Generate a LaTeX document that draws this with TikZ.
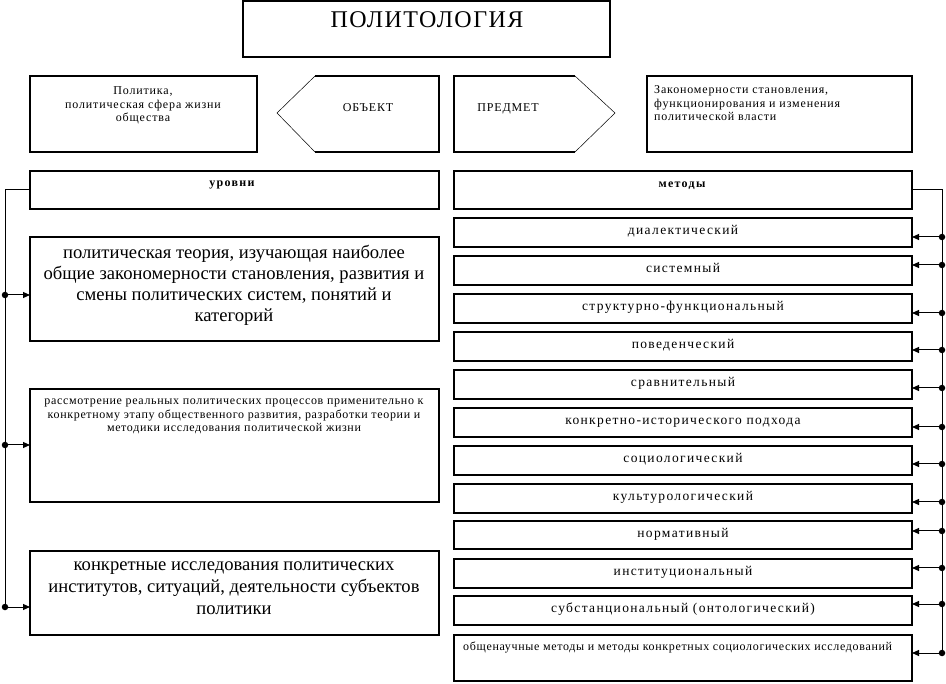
\documentclass[tikz,border=0pt]{standalone}
\usepackage{fontspec}
\setmainfont{Liberation Serif}
\usetikzlibrary{arrows.meta}
\begin{document}
\begin{tikzpicture}[x=1pt,y=-1pt,
  box/.style={draw,line width=1.1pt,inner sep=0pt,outer sep=0pt,anchor=north west},
  conn/.style={line width=1pt},
  arr/.style={conn,-{Triangle[length=7pt,width=6pt]}},
  dot/.style={circle,fill,inner sep=0pt,minimum size=6.5pt},
  lbl/.style={inner sep=0pt,anchor=base,align=center},
  small/.style={font=\fontsize{12}{13.5}\selectfont\addfontfeature{LetterSpace=7}},
  smallb/.style={font=\fontsize{12}{13.5}\selectfont\addfontfeature{LetterSpace=5.5}},
  boldlbl/.style={font=\fontsize{12}{13.5}\selectfont\bfseries\addfontfeature{LetterSpace=11}},
  meth/.style={inner sep=0pt,anchor=mid,font=\fontsize{13.5}{15}\selectfont\addfontfeature{LetterSpace=10}},
  big/.style={font=\fontsize{18.6}{21}\selectfont},
]
\useasboundingbox (0,0) rectangle (946,684);
\fill[white] (0,0) rectangle (946,684);

% title
\node[box,minimum width=367pt,minimum height=56pt] (title) at (243,1) {};
\node[lbl,font=\fontsize{24}{26}\selectfont\addfontfeature{LetterSpace=6}] (titletxt) at (427,28) {ПОЛИТОЛОГИЯ};

% row 2
\node[box,minimum width=227pt,minimum height=76pt] (pol) at (30,76) {};
\node[lbl,small] (poltxt) at (143,122) {Политика,\\политическая сфера жизни\\общества};

\coordinate (o1) at (277,113);
\coordinate (o2) at (315,76);
\coordinate (o3) at (439,76);
\coordinate (o4) at (439,152);
\coordinate (o5) at (315,152);
\draw[line width=1.1pt] (o2) -- (o3) -- (o4) -- (o5);
\draw[line width=0.5pt] (o5) -- (o1) -- (o2);
\node[lbl,small] (obj) at (368,112) {ОБЪЕКТ};

\coordinate (p1) at (454,76);
\coordinate (p2) at (575,76);
\coordinate (p3) at (615,113);
\coordinate (p4) at (575,152);
\coordinate (p5) at (454,152);
\draw[line width=1.1pt] (p2) -- (p1) -- (p5) -- (p4);
\draw[line width=0.5pt] (p2) -- (p3) -- (p4);
\node[lbl,small] (pred) at (508,112) {ПРЕДМЕТ};

\node[box,minimum width=265pt,minimum height=76pt] (zak) at (647,76) {};
\node[lbl,small,anchor=base west,align=left] (zaktxt) at (654,121) {Закономерности становления,\\функционирования и изменения\\политической власти};

% row 3
\node[box,minimum width=409pt,minimum height=38pt] (urov) at (30,171) {};
\node[lbl,boldlbl] (urovtxt) at (232,187) {уровни};
\node[box,minimum width=458pt,minimum height=38pt] (met) at (454,171) {};
\node[lbl,boldlbl] (mettxt) at (682,188) {методы};

% left boxes
\node[box,minimum width=409pt,minimum height=104pt] (A) at (30,237) {};
\node[lbl,big] (Atxt) at (234,322) {политическая теория, изучающая наиболее\\общие закономерности становления, развития и\\смены политических систем, понятий и\\категорий};
\node[box,minimum width=409pt,minimum height=113pt] (B) at (30,389) {};
\node[lbl,smallb] (Btxt) at (234,432) {рассмотрение реальных политических процессов применительно к\\конкретному этапу общественного развития, разработки теории и\\методики исследования политической жизни};
\node[box,minimum width=409pt,minimum height=84pt] (C) at (30,551) {};
\node[lbl,font=\fontsize{18.6}{22}\selectfont] (Ctxt) at (234,615) {конкретные исследования политических\\институтов, ситуаций, деятельности субъектов\\политики};

% right boxes
\node[box,minimum width=458pt,minimum height=29pt] (m1) at (454,218) {};
\node[box,minimum width=458pt,minimum height=29pt] (m2) at (454,256) {};
\node[box,minimum width=458pt,minimum height=29pt] (m3) at (454,294) {};
\node[box,minimum width=458pt,minimum height=29pt] (m4) at (454,332) {};
\node[box,minimum width=458pt,minimum height=29pt] (m5) at (454,370) {};
\node[box,minimum width=458pt,minimum height=29pt] (m6) at (454,408) {};
\node[box,minimum width=458pt,minimum height=29pt] (m7) at (454,446) {};
\node[box,minimum width=458pt,minimum height=29pt] (m8) at (454,484) {};
\node[box,minimum width=458pt,minimum height=28pt] (m9) at (454,521) {};
\node[box,minimum width=458pt,minimum height=29pt] (m10) at (454,559) {};
\node[box,minimum width=458pt,minimum height=29pt] (m11) at (454,596) {};
\node[box,minimum width=458pt,minimum height=46pt] (m12) at (454,635) {};

\node[meth] (t1) at (m1.center) {диалектический};
\node[meth] (t2) at (m2.center) {системный};
\node[meth] (t3) at (m3.center) {структурно-функциональный};
\node[meth] (t4) at (m4.center) {поведенческий};
\node[meth] (t5) at (m5.center) {сравнительный};
\node[meth] (t6) at (m6.center) {конкретно-исторического подхода};
\node[meth] (t7) at (m7.center) {социологический};
\node[meth] (t8) at (m8.center) {культурологический};
\node[meth] (t9) at (m9.center) {нормативный};
\node[meth] (t10) at (m10.center) {институциональный};
\node[meth] (t11) at (m11.center) {субстанциональный (онтологический)};
\node[lbl,smallb,anchor=base west] (t12) at (463,650) {общенаучные методы и методы конкретных социологических исследований};

% left connectors
\coordinate (dl1) at (5,295);
\coordinate (dl2) at (5,445);
\coordinate (dl3) at (5,607);
\draw[conn] (urov.west) -| (dl3);
\draw[arr] (dl1) -- (dl1 -| A.west);
\draw[arr] (dl2) -- (dl2 -| B.west);
\draw[arr] (dl3) -- (dl3 -| C.west);
\node[dot] (ld1) at (dl1) {};
\node[dot] (ld2) at (dl2) {};
\node[dot] (ld3) at (dl3) {};

% right connectors
\coordinate (dr1) at (942,237);
\coordinate (dr2) at (942,265);
\coordinate (dr3) at (942,313);
\coordinate (dr4) at (942,350);
\coordinate (dr5) at (942,388);
\coordinate (dr6) at (942,427);
\coordinate (dr7) at (942,464);
\coordinate (dr8) at (942,502);
\coordinate (dr9) at (942,531);
\coordinate (dr10) at (942,568);
\coordinate (dr11) at (942,604);
\coordinate (dr12) at (942,653);
\draw[conn] (met.east) -| (dr12);
\foreach \i in {1,...,12}{
  \draw[arr] (dr\i) -- (dr\i -| m\i.east);
  \node[dot] (rd\i) at (dr\i) {};
}
\end{tikzpicture}
\end{document}
